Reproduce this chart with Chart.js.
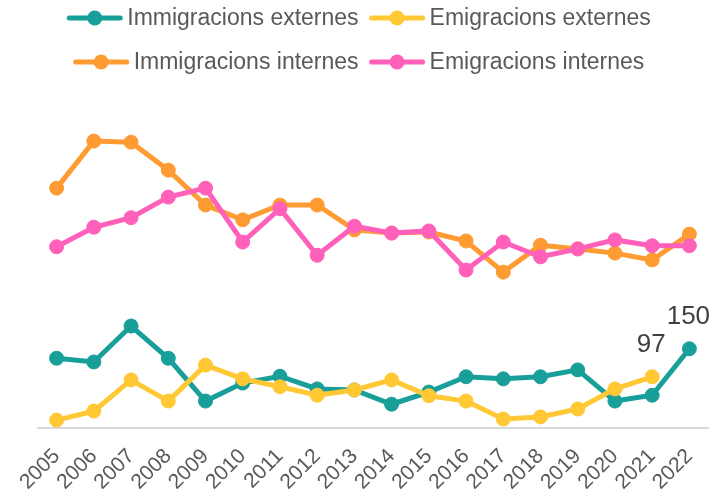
<!DOCTYPE html>
<html>
<head>
<meta charset="utf-8">
<script src="https://cdn.jsdelivr.net/npm/chart.js@4/dist/chart.umd.min.js"></script>
<style>
  body { margin: 0; background: #fff; }
  .wrap { width: 717px; height: 496px; position: relative; }
</style>
</head>
<body>
<div class="wrap"><canvas id="chartMigracions"></canvas></div>
<script>
// anys
const years = ["2005", "2006", "2007", "2008", "2009", "2010", "2011", "2012", "2013", "2014", "2015", "2016", "2017", "2018", "2019", "2020", "2021", "2022"];

// valors llegits del gràfic
const immigracionsExternes = [132, 125, 193, 132, 51, 85, 98, 74, 72, 45, 68, 97, 93, 97, 110, 51, 62, 150];
const emigracionsExternes = [15, 32, 91, 51, 119, 93, 78, 62, 72, 91, 61, 51, 17, 21, 36, 74, 97, null];
const immigracionsInternes = [454, 543, 541, 488, 422, 394, 422, 422, 375, 369, 371, 354, 295, 346, 339, 331, 318, 367];
const emigracionsInternes = [343, 380, 398, 437, 454, 352, 415, 327, 382, 369, 373, 299, 352, 324, 339, 356, 345, 345];

// etiquetes de valor: [sèrie, índex]
const valueLabels = [[0, 17], [1, 16]];

const legendRows = [[0, 1], [2, 3]];

function makeDataset(label, data, color, order) {
    return {
        label: label,
        data: data,
        borderColor: color,
        backgroundColor: color,
        borderWidth: 5,
        pointRadius: 7,
        pointBorderWidth: 1,
        pointHoverRadius: 7,
        tension: 0,
        order: order,
    };
}

const customLegend = {
    id: "customLegend",
    afterDraw(chart) {
        const ctx = chart.ctx;
        ctx.save();
        ctx.font = "23px 'Liberation Sans'";
        ctx.textBaseline = "middle";
        ctx.textAlign = "left";
        legendRows.forEach((row, r) => {
            const y = 18 + r * 44;
            const widths = row.map(i => 57 + 4 + ctx.measureText(chart.data.datasets[i].label).width);
            const total = widths.reduce((a, b) => a + b, 0) + 10 * (row.length - 1);
            let x = (chart.width - total) / 2;
            row.forEach((i, k) => {
                const ds = chart.data.datasets[i];
                ctx.strokeStyle = ds.borderColor;
                ctx.fillStyle = ds.borderColor;
                ctx.lineWidth = 5;
                ctx.lineCap = "round";
                ctx.beginPath();
                ctx.moveTo(x + 3, y);
                ctx.lineTo(x + 54, y);
                ctx.stroke();
                ctx.beginPath();
                ctx.arc(x + 28.5, y, 7.5, 0, Math.PI * 2);
                ctx.fill();
                ctx.fillStyle = "#595959";
                ctx.fillText(ds.label, x + 61, y + 1);
                x += widths[k] + 10;
            });
        });
        ctx.restore();
    }
};

const pointValueLabels = {
    id: "pointValueLabels",
    afterDatasetsDraw(chart) {
        const ctx = chart.ctx;
        ctx.save();
        ctx.font = "26px 'Liberation Sans'";
        ctx.fillStyle = "#404040";
        ctx.textAlign = "center";
        ctx.textBaseline = "alphabetic";
        valueLabels.forEach(([s, idx]) => {
            const pt = chart.getDatasetMeta(s).data[idx];
            const val = chart.data.datasets[s].data[idx];
            ctx.fillText(String(val), pt.x - 1, pt.y - 25);
        });
        ctx.restore();
    }
};

const chartMigracions = document.getElementById("chartMigracions");
const contextMigracions = chartMigracions.getContext("2d");

var myChartMigracions = new Chart(contextMigracions, {
    type: "line",
    data: {
        labels: years,
        datasets: [
            makeDataset("Immigracions externes", immigracionsExternes, "#189F99", 3),
            makeDataset("Emigracions externes", emigracionsExternes, "#FFC834", 2),
            makeDataset("Immigracions internes", immigracionsInternes, "#FF9B33", 1),
            makeDataset("Emigracions internes", emigracionsInternes, "#FF60B9", 0),
        ],
    },
    options: {
        responsive: true,
        maintainAspectRatio: false,
        animation: false,
        spanGaps: false,
        layout: { padding: { top: 111, left: 38, right: 9, bottom: 0 } },
        plugins: {
            legend: { display: false },
            tooltip: { enabled: false },
        },
        scales: {
            x: {
                offset: true,
                grid: { display: false, drawTicks: false },
                border: { display: true, color: "#d9d9d9", width: 2 },
                ticks: {
                    autoSkip: false,
                    maxRotation: 45,
                    minRotation: 45,
                    color: "#595959",
                    padding: 16,
                    font: { family: "'Liberation Sans'", size: 21 },
                },
                afterFit: function (scale) {
                    scale.height = 68;
                    scale.paddingLeft = 0;
                    scale.paddingRight = 0;
                },
            },
            y: {
                display: false,
                min: 0,
                max: 600,
            },
        },
    },
    plugins: [customLegend, pointValueLabels],
});
</script>
</body>
</html>
